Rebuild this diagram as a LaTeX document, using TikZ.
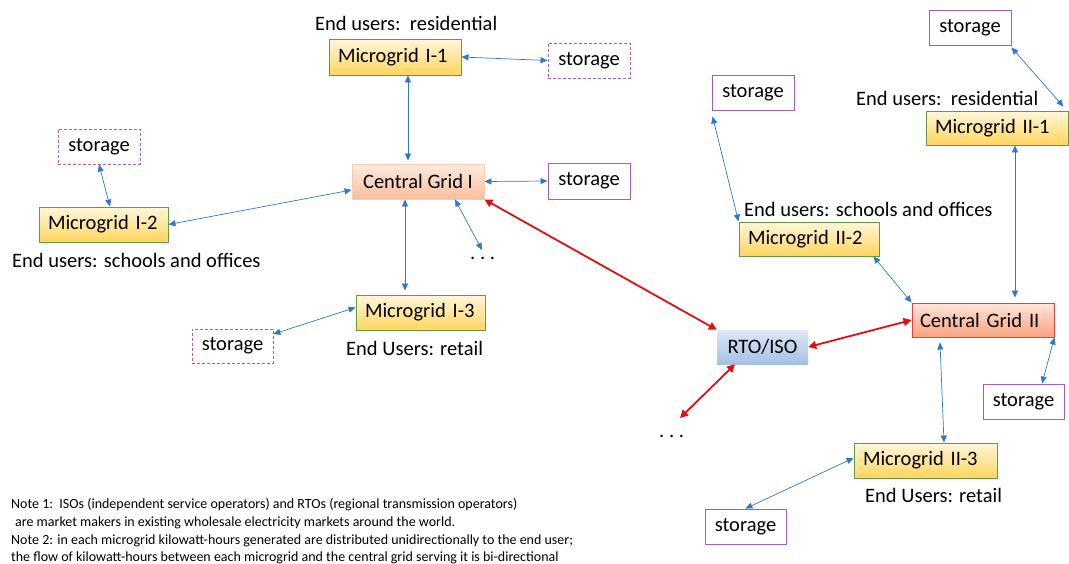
\documentclass[tikz,border=0pt]{standalone}
\usepackage{fontspec}
\setmainfont{Carlito}
\usetikzlibrary{arrows.meta}
\definecolor{mgtop}{HTML}{FFF7DC}
\definecolor{mgbot}{HTML}{FFD55E}
\definecolor{mgborder}{HTML}{5E9E3E}
\definecolor{cgItop}{HTML}{FDEBDF}
\definecolor{cgIbot}{HTML}{F8BE9C}
\definecolor{cgIborder}{HTML}{F6CDB3}
\definecolor{cgIItop}{HTML}{FEE6DA}
\definecolor{cgIIbot}{HTML}{F9A27F}
\definecolor{cgIIborder}{HTML}{EE3B3B}
\definecolor{rtotop}{HTML}{DDE7F5}
\definecolor{rtobot}{HTML}{A3C1E6}
\definecolor{stcol}{HTML}{A05CC8}
\definecolor{bluearr}{HTML}{2E78CC}
\definecolor{redarr}{HTML}{E01010}
\begin{document}
\begin{tikzpicture}[x=1pt,y=-1pt,
  txt/.style={inner sep=0pt, font=\fontsize{20.5}{24}\selectfont},
  mg/.style={txt, draw=mgborder, line width=0.9pt, top color=mgtop, bottom color=mgbot, align=left, inner xsep=9pt},
  cg1/.style={txt, draw=cgIborder, line width=0.9pt, top color=cgItop, bottom color=cgIbot},
  cg2/.style={txt, draw=cgIIborder, line width=0.9pt, top color=cgIItop, bottom color=cgIIbot, align=left, inner xsep=8pt},
  rtobox/.style={txt, top color=rtotop, bottom color=rtobot},
  st/.style={txt, draw=stcol, line width=0.9pt, fill=white},
  std/.style={st, dash pattern=on 3pt off 2pt},
  lbl/.style={txt, anchor=west},
  note/.style={inner sep=0pt, anchor=west, font=\fontsize{14}{16}\selectfont},
  barr/.style={draw=bluearr, line width=0.7pt, {Triangle[width=6pt,length=7pt]}-{Triangle[width=6pt,length=7pt]}},
  rarr/.style={draw=redarr, line width=1.8pt, {Triangle[width=8pt,length=8pt]}-{Triangle[width=8pt,length=8pt]}}
]
\useasboundingbox (0,0) rectangle (1069,563);

% boxes
\node[mg, text width=114pt, minimum height=36pt] (mgI1) at (395,57) {Microgrid I-1};
\node[std, minimum width=82pt, minimum height=35pt] (stI1) at (589,60.5) {storage};
\node[cg1, minimum width=132pt, minimum height=35pt] (cgI) at (418,181.5) {Central Grid I};
\node[st, minimum width=82pt, minimum height=36pt] (stCGI) at (589,181) {storage};
\node[std, minimum width=82pt, minimum height=35pt] (stI2) at (99,146.5) {storage};
\node[mg, text width=111pt, minimum height=35pt] (mgI2) at (103.5,224.5) {Microgrid I-2};
\node[mg, text width=111pt, minimum height=35pt] (mgI3) at (420.5,312.5) {Microgrid I-3};
\node[std, minimum width=81pt, minimum height=34pt] (stI3) at (232.5,346) {storage};

\node[st, minimum width=82pt, minimum height=35pt] (stII2) at (753,92.5) {storage};
\node[st, minimum width=82pt, minimum height=35pt] (stII1) at (970,27.5) {storage};
\node[mg, text width=124pt, minimum height=34pt] (mgII1) at (997,128) {Microgrid II-1};
\node[mg, text width=122pt, minimum height=34pt] (mgII2) at (809,239) {Microgrid II-2};
\node[cg2, text width=126pt, minimum height=34pt] (cgII) at (983,320) {Central Grid II};
\node[rtobox, minimum width=91pt, minimum height=34pt] (rto) at (762.5,347) {RTO/ISO};
\node[st, minimum width=81pt, minimum height=35pt] (stCGII) at (1023.5,401.5) {storage};
\node[mg, text width=125pt, minimum height=35pt] (mgII3) at (925.5,460.5) {Microgrid II-3};
\node[st, minimum width=81pt, minimum height=35pt] (stII3) at (745.5,526.5) {storage};

% labels
\node[lbl] (lI1) at (315,23) {End users:\ \ residential};
\node[lbl] (lI2) at (12,260) {End users: schools and offices};
\node[lbl] (lI3) at (346,348) {End Users: retail};
\node[lbl] (lII1) at (856,98) {End users:\ \ residential};
\node[lbl] (lII2) at (744,209) {End users: schools and offices};
\node[lbl] (lII3) at (865,495) {End Users: retail};
\node[txt, anchor=base west] (dots1) at (470,259) {.\ .\ .};
\node[txt, anchor=base west] (dots2) at (659,437) {.\ .\ .};
\coordinate (d1end) at (482,250);
\coordinate (d2end) at (680,418);

% notes
\node[note] (n1) at (11,504.5) {Note 1:\ \ ISOs (independent service operators) and RTOs (regional transmission operators)};
\node[note] (n2) at (15,523) {are market makers in existing wholesale electricity markets around the world.};
\node[note] (n3) at (11,541) {Note 2: in each microgrid kilowatt-hours generated are distributed unidirectionally to the end user;};
\node[note] (n4) at (11,557.5) {the flow of kilowatt-hours between each microgrid and the central grid serving it is bi-directional};

% blue connectors
\draw[barr] (mgI1.east) -- (stI1.west);
\draw[barr] ([xshift=13pt]mgI1.south) -- ([xshift=-10pt,yshift=3pt]cgI.north);
\draw[barr] (cgI.east) -- (stCGI.west);
\draw[barr] ([yshift=-8.5pt]cgI.west) -- (mgI2.east);
\draw[barr] (stI2.south) -- ([xshift=6.5pt]mgI2.north);
\draw[barr] ([xshift=-13pt]cgI.south) -- ([xshift=-15.5pt,yshift=4pt]mgI3.north);
\draw[barr] ([xshift=37pt]cgI.south) -- (d1end);
\draw[barr] ([yshift=5pt]mgI3.west) -- ([yshift=12pt]stI3.east);
\draw[barr] ([xshift=1pt,yshift=-6pt]stII2.south west) -- (mgII2.north west);
\draw[barr] ([xshift=-6pt]mgII2.south east) -- (cgII.north west);
\draw[barr] ([xshift=18pt]mgII1.south) -- ([xshift=32pt,yshift=5pt]cgII.north);
\draw[barr] ([yshift=-2pt]stII1.south east) -- ([xshift=-5pt,yshift=4pt]mgII1.north east);
\draw[barr] (cgII.south east) -- ([xshift=18.5pt]stCGII.north);
\draw[barr] ([xshift=-43pt,yshift=-5pt]cgII.south) -- ([xshift=18.5pt]mgII3.north);
\draw[barr] ([yshift=2.5pt]mgII3.west) -- (stII3.north);

% red connectors
\draw[rarr] (cgI.south east) -- (rto.north west);
\draw[rarr] (rto.east) -- (cgII.west);
\draw[rarr] ([xshift=-27.5pt]rto.south) -- (d2end);
\end{tikzpicture}
\end{document}
